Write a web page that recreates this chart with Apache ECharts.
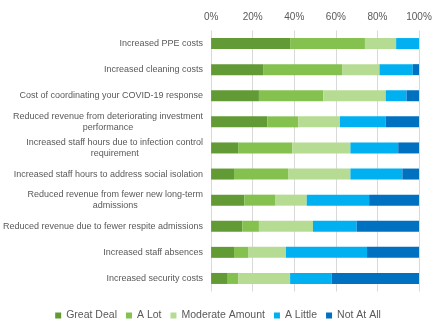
<!DOCTYPE html>
<html>
<head>
<meta charset="utf-8">
<script src="https://cdn.jsdelivr.net/npm/echarts@6/dist/echarts.min.js"></script>
<style>
  html, body { margin: 0; padding: 0; background: #ffffff; }
  #chart { width: 436px; height: 325px; }
</style>
</head>
<body>
<div id="chart"></div>
<script>
// Cost impacts, share of respondents by degree of impact (top to bottom)
const categories = [
  'Increased PPE costs',
  'Increased cleaning costs',
  'Cost of coordinating your COVID-19 response',
  'Reduced revenue from deteriorating investment\nperformance',
  'Increased staff hours due to infection control\nrequirement',
  'Increased staff hours to address social isolation',
  'Reduced revenue from fewer new long-term\nadmissions',
  'Reduced revenue due to fewer respite admissions',
  'Increased staff absences',
  'Increased security costs'
];

const seriesNames = ['Great Deal', 'A Lot', 'Moderate Amount', 'A Little', 'Not At All'];

const greatDeal = [38, 25, 23, 27, 13, 11, 16, 15, 11, 8];
const aLot      = [36, 38, 31, 15, 26, 26, 15, 8, 7, 5];
const moderate  = [15, 18, 30, 20, 28, 30, 15, 26, 18, 25];
const aLittle   = [11, 16, 10, 22, 23, 25, 30, 21, 39, 20];
const notAtAll  = [0, 3, 6, 16, 10, 8, 24, 30, 25, 42];

const tickValues = [0, 20, 40, 60, 80, 100];

const seriesData = [greatDeal, aLot, moderate, aLittle, notAtAll];
const colors = ['#629a35', '#84c14e', '#b6dc93', '#00b0f0', '#0070c0'];

const FONT = '"Liberation Sans", Arial, sans-serif';
const TEXT = '#595959';

const chart = echarts.init(document.getElementById('chart'), null, { renderer: 'canvas' });

chart.setOption({
  animation: false,
  backgroundColor: '#ffffff',
  color: colors,
  textStyle: { fontFamily: FONT, color: TEXT },
  grid: { left: 210.5, right: 17, top: 30.5, bottom: 33.5, containLabel: false },
  xAxis: {
    type: 'value',
    position: 'top',
    min: tickValues[0],
    max: tickValues[tickValues.length - 1],
    interval: tickValues[1] - tickValues[0],
    axisLine: { show: false },
    axisTick: { show: false },
    splitLine: { show: true, lineStyle: { color: '#d9d9d9', width: 1 } },
    axisLabel: {
      margin: 8,
      fontSize: 10,
      color: TEXT,
      fontFamily: FONT,
      formatter: '{value}%'
    }
  },
  yAxis: {
    type: 'category',
    inverse: true,
    data: categories,
    axisLine: { show: false },
    axisTick: { show: false },
    axisLabel: {
      margin: 8,
      interval: 0,
      color: TEXT,
      fontSize: 9,
      fontFamily: FONT,
      formatter: function (v) {
        return v.split('\n').map(function (l) { return '{c|' + l + '}'; }).join('\n');
      },
      rich: {
        c: { align: 'center', fontSize: 9, lineHeight: 11, color: TEXT, fontFamily: FONT }
      }
    }
  },
  legend: {
    bottom: 4,
    left: 'center',
    padding: 0,
    icon: 'rect',
    itemWidth: 6,
    itemHeight: 6,
    itemGap: 9,
    textStyle: { fontSize: 10.5, color: TEXT, fontFamily: FONT },
    data: seriesNames
  },
  series: seriesNames.map(function (name, i) {
    return {
      name: name,
      type: 'bar',
      stack: 'total',
      barWidth: 11,
      data: seriesData[i],
      itemStyle: { color: colors[i] }
    };
  })
});
</script>
</body>
</html>
